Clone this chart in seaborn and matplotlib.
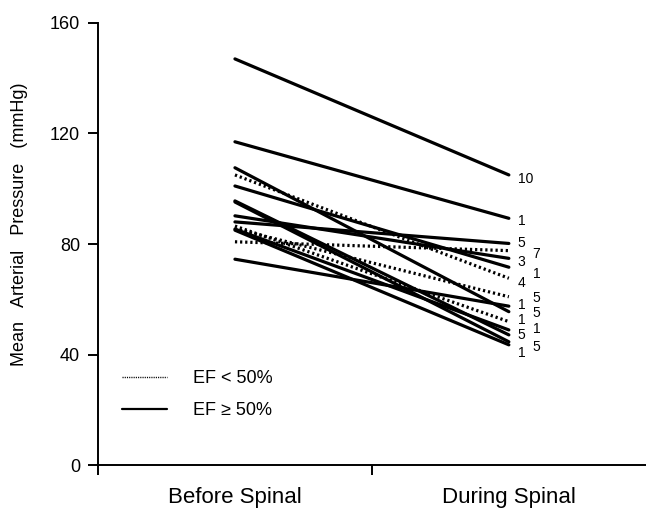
import matplotlib
matplotlib.use("Agg")
import matplotlib.pyplot as plt
import seaborn as sns
import pandas as pd
from matplotlib.lines import Line2D

sns.set_style("ticks")
plt.rcParams['font.family'] = ['Liberation Sans', 'DejaVu Sans']
for key in ['text.color', 'axes.labelcolor', 'xtick.color', 'ytick.color', 'axes.edgecolor']:
    plt.rcParams[key] = 'black'

phases = ['Before Spinal', 'During Spinal']

# EF >= 50% (solid lines), mean arterial pressure before / during spinal
normal_before = [147, 117, 88, 90.2, 101, 74.5, 107.6, 85.4, 95.6, 95.2, 85.0]
normal_during = [105, 89.3, 80.2, 74.8, 71.6, 57.5, 55.5, 48.9, 47.1, 44.6, 43.5]

# EF < 50% (dotted lines)
low_before = [105, 80.8, 85.5, 86.5]
low_during = [67.6, 77.6, 60.9, 51.9]

# counts written at the right end of the lines (two columns)
counts_col1 = ['10', '1', '5', '3', '4', '1', '1', '5', '1']
counts_col1_y = [103.4, 88.3, 80.5, 73.4, 65.8, 57.9, 52.5, 47.1, 40.4]
counts_col2 = ['7', '1', '5', '5', '1', '5']
counts_col2_y = [76.4, 69.0, 60.6, 54.9, 49.1, 42.8]

yticks = [0, 40, 80, 120, 160]

rows = []
uid = 0
for group, before, during in [('EF ≥ 50%', normal_before, normal_during),
                              ('EF < 50%', low_before, low_during)]:
    for b, d in zip(before, during):
        rows.append({'id': uid, 'phase': 0, 'map': b, 'group': group})
        rows.append({'id': uid, 'phase': 1, 'map': d, 'group': group})
        uid += 1
df = pd.DataFrame(rows)

fig = plt.figure(figsize=(6.46, 5.11), dpi=100)
ax = fig.add_axes([0.1517, 0.09, 0.848, 0.865])

sns.lineplot(data=df, x='phase', y='map', units='id', estimator=None,
             style='group', dashes={'EF ≥ 50%': '', 'EF < 50%': (0.7, 0.9)},
             color='black', linewidth=2.3, legend=False, ax=ax)

for txt, yv in zip(counts_col1, counts_col1_y):
    ax.text(1.033, yv, txt, fontsize=10, ha='left', va='center')
for txt, yv in zip(counts_col2, counts_col2_y):
    ax.text(1.087, yv, txt, fontsize=10, ha='left', va='center')

ax.set_xlim(-0.5, 1.5)
ax.set_ylim(0, 160)
ax.set_yticks(yticks)
ax.set_xticks([-0.5, 0.5])
ax.set_xticklabels(['', ''])
ax.set_xticks([0, 1], minor=True)
ax.set_xticklabels(phases, minor=True)
ax.tick_params(axis='x', which='minor', length=0, pad=16, labelsize=16)
ax.tick_params(axis='x', which='major', length=7, width=1.4, direction='out')
ax.tick_params(axis='y', length=7, width=1.4, direction='out', labelsize=13, pad=6)

for side in ['top', 'right']:
    ax.spines[side].set_visible(False)
for side in ['left', 'bottom']:
    ax.spines[side].set_linewidth(1.4)

ax.set_xlabel('')
ax.set_ylabel('Mean   Arterial   Pressure   (mmHg)', fontsize=13)
ax.yaxis.set_label_coords(-0.128, 0.545)

handles = [Line2D([], [], color='black', linestyle=(0, (0.8, 0.8)), linewidth=1),
           Line2D([], [], color='black', linestyle='-', linewidth=1.6)]
ax.legend(handles, ['EF < 50%', 'EF ≥ 50%'], loc='upper left',
          bbox_to_anchor=(0.044, 0.215), frameon=False, fontsize=13,
          handlelength=2.5, handletextpad=1.4, labelspacing=0.85,
          borderpad=0, borderaxespad=0)

plt.savefig('out.png', dpi=100)
